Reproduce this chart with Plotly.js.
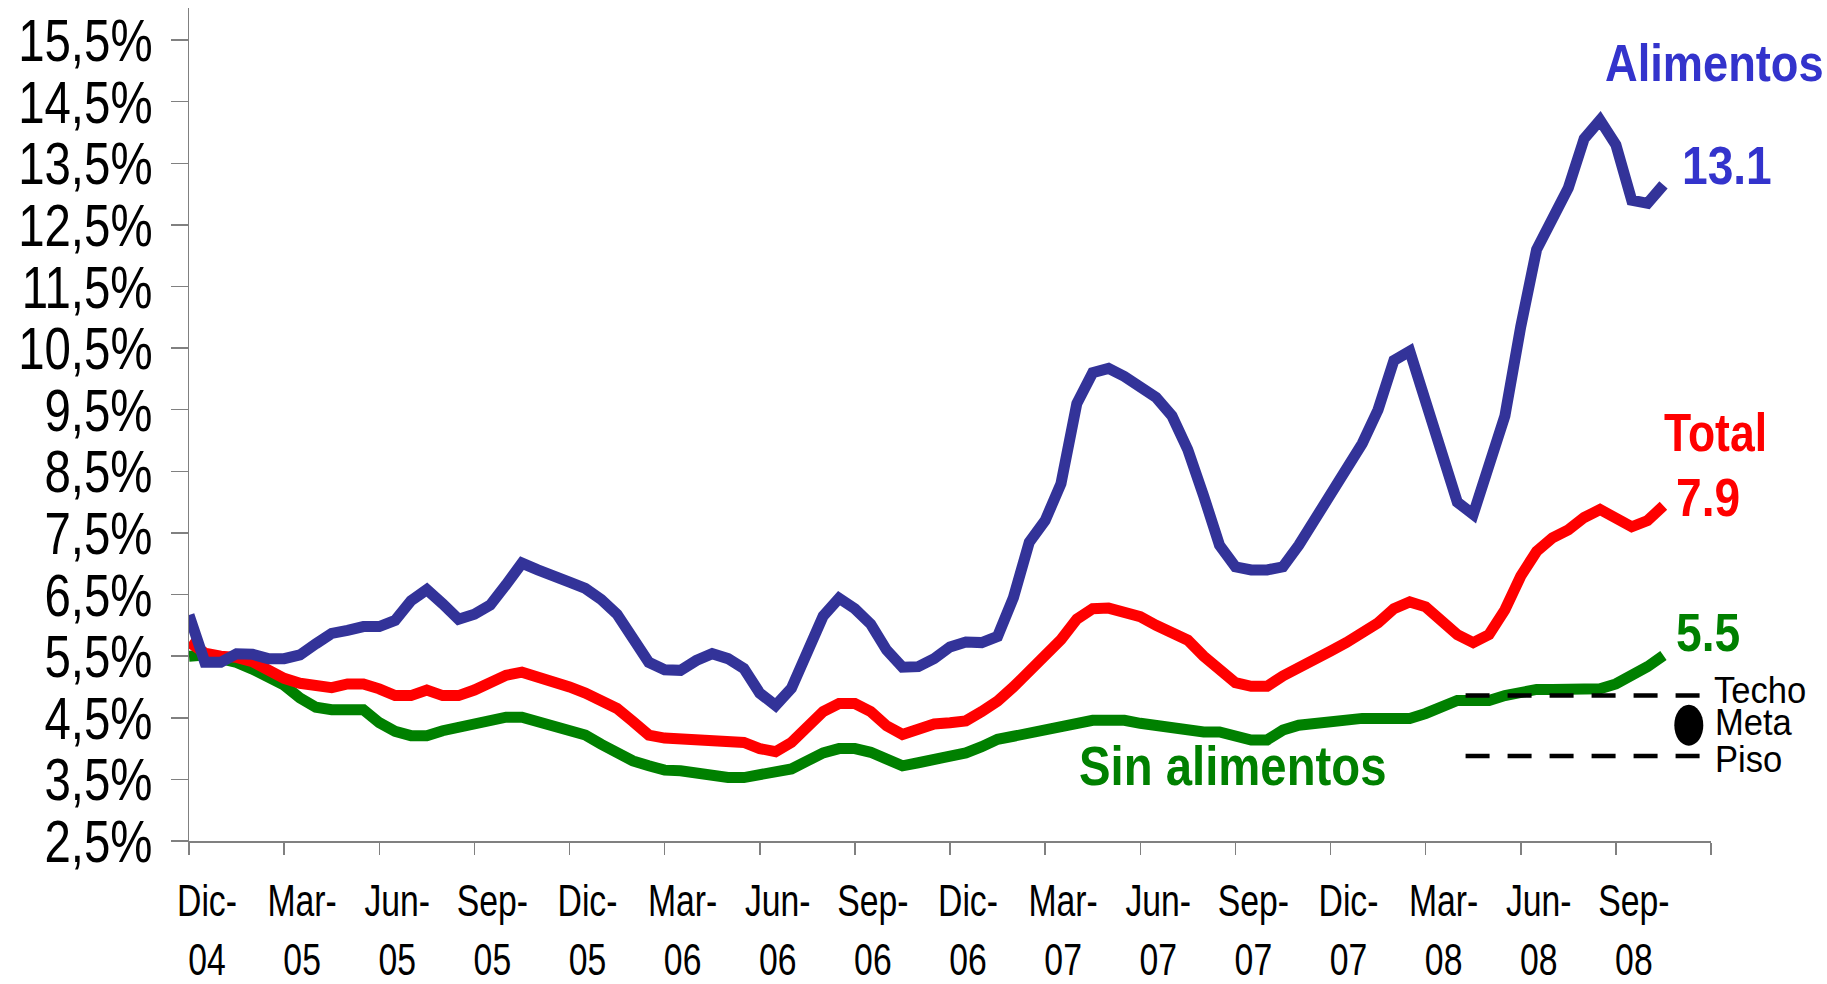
<!DOCTYPE html>
<html>
<head>
<meta charset="utf-8">
<script src="https://cdn.plot.ly/plotly-3.0.1.min.js"></script>
<style>html,body{margin:0;padding:0;background:#fff;}#chart{width:1827px;height:984px;}</style>
</head>
<body>
<div id="chart"></div>
<script>
// Half-month samples starting Dec-04 (index 0) ... mid Oct-08
const alimentos = [6.17,5.40,5.40,5.54,5.53,5.46,5.46,5.52,5.70,5.87,5.92,5.98,5.98,6.08,6.40,6.58,6.35,6.10,6.18,6.33,6.66,7.01,6.90,6.78,
  6.70,6.60,6.42,6.18,5.76,5.40,5.28,5.27,5.43,5.54,5.46,5.30,4.90,4.70,4.98,5.62,6.15,6.44,6.27,6.02,5.60,5.32,5.33,5.46,
  5.65,5.73,5.72,5.82,6.45,7.35,7.70,8.30,9.60,10.10,10.17,10.04,9.88,9.70,9.40,8.85,8.10,7.30,6.95,6.90,6.90,6.95,7.30,7.70,
  8.15,8.50,8.95,9.50,10.30,10.45,9.60,8.70,8.00,7.80,8.60,9.40,10.85,12.10,12.60,13.10,13.90,14.20,13.80,12.90,12.85,13.15];
const total = [5.73,5.55,5.50,5.48,5.41,5.27,5.14,5.06,5.03,4.99,5.05,5.05,4.97,4.86,4.86,4.95,4.86,4.86,4.95,5.08,5.19,5.24,5.17,5.11,
  5.00,4.90,4.77,4.65,4.44,4.22,4.17,4.16,4.16,4.16,4.15,4.10,4.00,3.95,4.10,4.35,4.60,4.73,4.73,4.60,4.37,4.23,4.30,4.40,
  4.42,4.45,4.60,4.77,5.00,5.26,5.50,5.77,6.10,6.27,6.28,6.22,6.14,6.00,5.89,5.76,5.50,5.28,5.07,5.01,5.01,5.18,5.30,5.45,
  5.58,5.72,5.87,6.04,6.27,6.38,6.30,6.10,5.85,5.72,5.85,6.25,6.80,7.20,7.42,7.55,7.75,7.88,7.75,7.60,7.70,7.94];
const sinAlimentos = [5.50,5.52,5.46,5.40,5.29,5.16,5.03,4.82,4.67,4.63,4.63,4.63,4.42,4.28,4.21,4.21,4.29,4.35,4.40,4.46,4.51,4.51,4.44,4.38,
  4.30,4.22,4.07,3.93,3.80,3.72,3.65,3.64,3.60,3.55,3.53,3.53,3.57,3.60,3.67,3.80,3.93,4.00,4.00,3.94,3.84,3.72,3.77,3.82,
  3.88,3.93,4.03,4.15,4.20,4.25,4.28,4.33,4.40,4.46,4.46,4.46,4.41,4.37,4.33,4.27,4.27,4.27,4.22,4.14,4.14,4.30,4.38,4.41,
  4.45,4.49,4.49,4.49,4.49,4.49,4.57,4.70,4.78,4.78,4.78,4.86,4.92,4.96,4.96,4.96,4.96,4.97,5.05,5.17,5.33,5.51];
// month offset of each sample (0 = Dic-04)
const months = alimentos.map((_, i) => i / 2);

const tickMonths = [0,3,6,9,12,15,18,21,24,27,30,33,36,39,42,45,48];
const tickLabels = ["Dic-<br>04","Mar-<br>05","Jun-<br>05","Sep-<br>05","Dic-<br>05","Mar-<br>06","Jun-<br>06","Sep-<br>06",
  "Dic-<br>06","Mar-<br>07","Jun-<br>07","Sep-<br>07","Dic-<br>07","Mar-<br>08","Jun-<br>08","Sep-<br>08",""];
const yTicks = [2.5,3.5,4.5,5.5,6.5,7.5,8.5,9.5,10.5,11.5,12.5,13.5,14.5,15.5];
const yLabels = ["2,5%","3,5%","4,5%","5,5%","6,5%","7,5%","8,5%","9,5%","10,5%","11,5%","12,5%","13,5%","14,5%","15,5%"];

const X_MAX = 48;
const rangeX = [40.26, 47.86];
const techo = 4.86, piso = 3.88;
const meta = {x: 47.3, y: 4.38};
const lastAlimentos = "13.1", lastTotal = "7.9", lastSin = "5.5";

const sans = "'Liberation Sans', Arial, sans-serif";
const BLUE = "#333399", BLUE_T = "#3333CC", RED = "#FF0000", GREEN = "#008000";

const traces = [
  {x: months, y: sinAlimentos, mode: "lines", line: {color: GREEN, width: 11}, hoverinfo: "skip"},
  {x: months, y: total, mode: "lines", line: {color: RED, width: 11}, hoverinfo: "skip"},
  {x: months, y: alimentos, mode: "lines", line: {color: BLUE, width: 11}, hoverinfo: "skip"},
  {x: rangeX, y: [techo, techo], mode: "lines", line: {color: "#000", width: 4.5, dash: "24px,18px"}, hoverinfo: "skip"},
  {x: rangeX, y: [piso, piso], mode: "lines", line: {color: "#000", width: 4.5, dash: "24px,18px"}, hoverinfo: "skip"}
];

function ann(text, x, y, color, size, bold, paperX) {
  return {text: bold ? "<b>" + text + "</b>" : text,
    x: paperX ? x / X_MAX : x, y: y, xref: paperX ? "paper" : "x", yref: "y",
    xanchor: "left", yanchor: "middle", showarrow: false, borderpad: 0,
    font: {family: sans, size: size, color: color}};
}

const annotations = [
  ann("Alimentos", 44.64, 15.13, BLUE_T, 52, true),
  ann(lastAlimentos, 47.05, 13.47, BLUE_T, 53, true),
  ann("Total", 46.5, 9.13, RED, 53, true),
  ann(lastTotal, 46.85, 8.08, RED, 53, true),
  ann(lastSin, 46.85, 5.88, GREEN, 53, true),
  ann("Sin alimentos", 28.03, 3.72, GREEN, 55, true),
  ann("Techo", 48.05, 4.95, "#000", 36, false, true),
  ann("Meta", 48.1, 4.42, "#000", 36, false, true),
  ann("Piso", 48.1, 3.82, "#000", 36, false, true)
];
const annScale = [0.87, 0.87, 0.84, 0.87, 0.87, 0.86, 0.96, 0.96, 0.96];

const layout = {
  width: 1827, height: 984,
  margin: {l: 189, r: 116, t: 8, b: 143},
  paper_bgcolor: "#fff", plot_bgcolor: "#fff",
  showlegend: false,
  xaxis: {
    type: "linear", range: [0, X_MAX], showgrid: false, zeroline: false,
    showline: true, linecolor: "#808080", linewidth: 1.5,
    ticks: "outside", ticklen: 12, tickcolor: "#808080", tickwidth: 1.5,
    tickmode: "array", tickvals: tickMonths, ticktext: tickLabels,
    ticklabelshift: 18, ticklabelstandoff: 8,
    tickfont: {family: sans, size: 45, color: "#000"}
  },
  yaxis: {
    range: [2.5, 16.02], showgrid: false, zeroline: false,
    showline: true, linecolor: "#808080", linewidth: 1.5,
    ticks: "outside", ticklen: 17, tickcolor: "#808080", tickwidth: 1.5,
    tickmode: "array", tickvals: yTicks, ticktext: yLabels,
    ticklabelstandoff: 6,
    tickfont: {family: sans, size: 60, color: "#000"}
  },
  shapes: [
    {type: "circle", xref: "x", yref: "y", xsizemode: "pixel", ysizemode: "pixel",
     xanchor: meta.x, yanchor: meta.y, x0: -14.5, x1: 14.5, y0: -20.5, y1: 20.5,
     fillcolor: "#000", line: {color: "#000", width: 0}}
  ],
  annotations: annotations
};

// horizontally condense text (the reference uses tall, narrow lettering)
function condense(el, s, mode) {
  const bb = el.getBBox();
  const ax = mode === "left" ? bb.x : mode === "right" ? bb.x + bb.width : bb.x + bb.width / 2;
  const t = el.getAttribute("transform") || "";
  el.setAttribute("transform", t + " translate(" + ax + ",0) scale(" + s + ",1) translate(" + (-ax) + ",0)");
}

Plotly.newPlot("chart", traces, layout, {displayModeBar: false, staticPlot: true}).then(gd => {
  gd.querySelectorAll(".ytick text").forEach(el => condense(el, 0.79, "right"));
  gd.querySelectorAll(".xtick text").forEach(el => condense(el, 0.75, "center"));
  gd.querySelectorAll(".annotation").forEach(g => {
    const i = +g.getAttribute("data-index");
    const t = g.querySelector("text.annotation-text");
    if (t) condense(t, annScale[i], "left");
  });
});
</script>
</body>
</html>
